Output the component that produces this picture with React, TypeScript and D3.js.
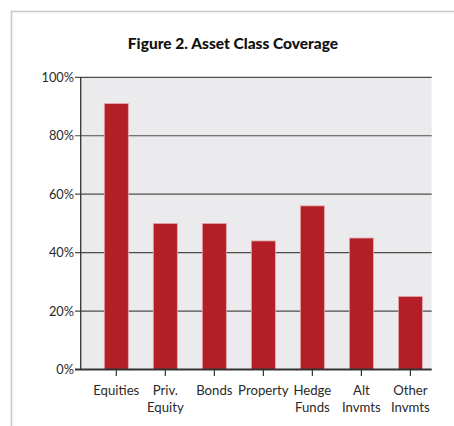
import React from "react";
import * as d3 from "d3";

const categories = ["Equities", "Priv.\nEquity", "Bonds", "Property", "Hedge\nFunds", "Alt\nInvmts", "Other\nInvmts"];
const values = [91, 50, 50, 44, 56, 45, 25];
const yTicks = [0, 20, 40, 60, 80, 100];
const title = "Figure 2. Asset Class Coverage";

const W = 454;
const H = 426;
const plotLeft = 80.7;
const plotRight = 431.7;
const plotTop = 77.3;
const plotBottom = 369.5;

export default function App() {
  const x = d3.scaleBand<string>().domain(categories).range([91.8, 434.9]).paddingInner(0.51).paddingOuter(0.255);
  const y = d3.scaleLinear().domain([0, 100]).range([plotBottom, plotTop]);
  const font = "Lato, 'Open Sans', sans-serif";
  return (
    <svg width={W} height={H} style={{ position: "absolute", left: 0, top: 0, background: "#fff" }}>
      <line x1={11} y1={11.5} x2={W} y2={11.5} stroke="#c8c8c8" strokeWidth={1.6} />
      <line x1={11.5} y1={11} x2={11.5} y2={H} stroke="#c8c8c8" strokeWidth={1.6} />
      <text x={233} y={49} textAnchor="middle" fontFamily={font} fontWeight={900} fontSize={15.5} fill="#111">
        {title}
      </text>
      <rect x={plotLeft} y={plotTop} width={plotRight - plotLeft} height={plotBottom - plotTop} fill="#ebebee" />
      {yTicks.map((t) => (
        <g key={t}>
          {t > 0 && (
            <line x1={75} x2={plotRight} y1={y(t)} y2={y(t)} stroke="#4d4d4d" strokeWidth={t === 100 ? 1.3 : 1.2} />
          )}
          <text x={74} y={y(t) + 4.5} textAnchor="end" fontFamily={font} fontSize={12.8} fill="#2a2a2a">
            {t}%
          </text>
        </g>
      ))}
      {categories.map((c, i) => (
        <rect
          key={c}
          x={x(c)}
          y={y(values[i])}
          width={x.bandwidth()}
          height={plotBottom - y(values[i])}
          fill="#b41f27"
          stroke="#e3a9ad"
          strokeWidth={0.8}
        />
      ))}
      <line x1={plotLeft} x2={plotLeft} y1={plotTop} y2={plotBottom} stroke="#333" strokeWidth={1.3} />
      <line x1={75} x2={plotRight} y1={plotBottom} y2={plotBottom} stroke="#333" strokeWidth={1.8} />
      {categories.map((c) => {
        const cx = (x(c) as number) + x.bandwidth() / 2;
        const lines = c.split("\n");
        return (
          <g key={c}>
            <line x1={cx} x2={cx} y1={plotBottom} y2={376} stroke="#333" strokeWidth={1.2} />
            {lines.map((l, j) => (
              <text key={j} x={cx} y={395 + j * 17} textAnchor="middle" fontFamily={font} fontSize={13.2} fill="#2a2a2a">
                {l}
              </text>
            ))}
          </g>
        );
      })}
    </svg>
  );
}
